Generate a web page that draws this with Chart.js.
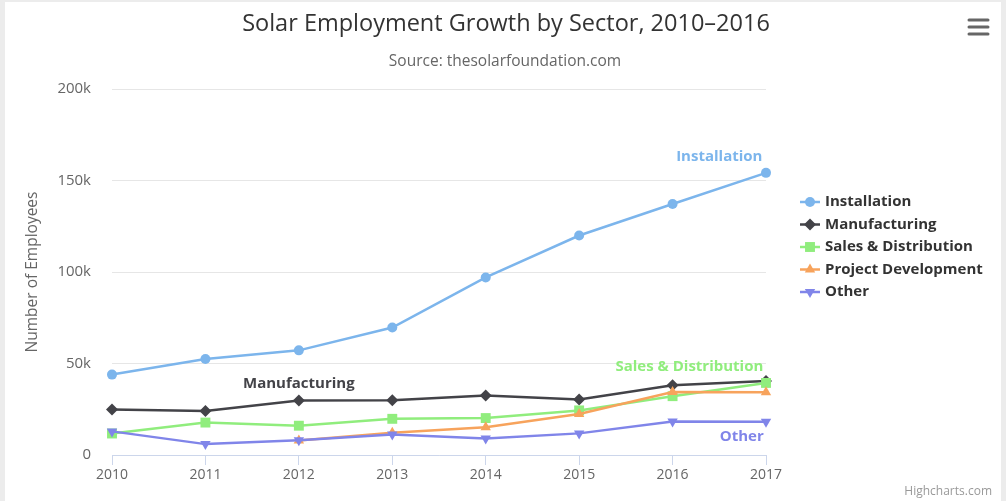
<!DOCTYPE html>
<html><head><meta charset="utf-8">
<script src="https://cdn.jsdelivr.net/npm/chart.js@4/dist/chart.umd.min.js"></script>
<style>
html,body{margin:0;padding:0;background:#ececec;width:1006px;height:501px;overflow:hidden}
#wrap{position:absolute;left:5px;top:2px;width:996px;height:499px;background:#fff}
canvas{display:block}
</style></head><body>
<div id="wrap"><canvas id="c" width="996" height="499"></canvas></div>
<script>
const categories = ['2010','2011','2012','2013','2014','2015','2016','2017'];
const installation = [43934, 52503, 57177, 69658, 97031, 119931, 137133, 154175];
const manufacturing = [24916, 24064, 29742, 29851, 32490, 30282, 38121, 40434];
const salesDistribution = [11744, 17722, 16005, 19771, 20185, 24377, 32147, 39387];
const projectDevelopment = [null, null, 7988, 12169, 15112, 22452, 34400, 34227];
const other = [12908, 5948, 8105, 11248, 8989, 11816, 18274, 18111];
const seriesNames = ['Installation','Manufacturing','Sales & Distribution','Project Development','Other'];
const yTicks = [0, 50000, 100000, 150000, 200000];
const titleText = 'Solar Employment Growth by Sector, 2010–2016';
const subtitleText = 'Source: thesolarfoundation.com';
const yTitleText = 'Number of Employees';

const colors = ['#7cb5ec','#434348','#90ed7d','#f7a35c','#8085e9'];
const styles = ['circle','rectRot','rect','triangle','triangle'];
const rotations = [0,0,0,0,180];
const radii = [5,6,7,6,6];
const seriesData = [installation, manufacturing, salesDistribution, projectDevelopment, other];
// series label anchors: [category index, value]
const seriesLabels = [[6.5,163000],[2,39000],[6.18,48300],null,[6.74,10000]];
const FONT = '"Open Sans", "DejaVu Sans", sans-serif';

const datasets = seriesData.map((d,i)=>({
  label: seriesNames[i], data: d,
  borderColor: colors[i], backgroundColor: colors[i],
  pointBackgroundColor: colors[i], pointBorderWidth: 0,
  pointStyle: styles[i], pointRotation: rotations[i], pointRadius: radii[i],
  borderWidth: 2.5, tension: 0, spanGaps: false, order: 5 - i
}));

function drawMarker(ctx, style, rot, x, y, r, color){
  ctx.save();
  ctx.fillStyle = color;
  ctx.translate(x,y);
  ctx.rotate(rot*Math.PI/180);
  ctx.beginPath();
  if(style==='circle'){ ctx.arc(0,0,r,0,Math.PI*2); }
  else if(style==='rect'){ const s=r*Math.SQRT1_2; ctx.rect(-s,-s,2*s,2*s); }
  else if(style==='rectRot'){ ctx.moveTo(0,-r); ctx.lineTo(r,0); ctx.lineTo(0,r); ctx.lineTo(-r,0); ctx.closePath(); }
  else if(style==='triangle'){
    const a=r; ctx.moveTo(0,-a); ctx.lineTo(a*Math.cos(Math.PI/6), a*0.5); ctx.lineTo(-a*Math.cos(Math.PI/6), a*0.5); ctx.closePath();
  }
  ctx.fill();
  ctx.restore();
}

const decor = {
  id:'decor',
  afterDraw(chart){
    const ctx = chart.ctx;
    const xs = chart.scales.x, ys = chart.scales.y;
    ctx.save();
    ctx.textAlign='center'; ctx.textBaseline='middle';
    ctx.fillStyle='#333333'; ctx.font='23.5px '+FONT;
    ctx.fillText(titleText, 501, 22);
    ctx.fillStyle='#666666'; ctx.font='15.5px '+FONT;
    ctx.fillText(subtitleText, 500, 60);
    // y title
    ctx.save(); ctx.translate(28, 270); ctx.rotate(-Math.PI/2);
    ctx.fillStyle='#666666'; ctx.font='15.5px '+FONT;
    ctx.fillText(yTitleText, 0, 0); ctx.restore();
    // series labels
    ctx.font='bold 15px '+FONT;
    seriesLabels.forEach((l,i)=>{
      if(!l) return;
      const px = xs.left + (xs.right-xs.left)*l[0]/(categories.length-1);
      ctx.fillStyle = colors[i];
      ctx.fillText(seriesNames[i], px, ys.getPixelForValue(l[1]));
    });
    // legend
    ctx.textAlign='left';
    seriesNames.forEach((n,i)=>{
      const y = 200 + i*22.5;
      ctx.strokeStyle = colors[i]; ctx.lineWidth=2.5;
      ctx.beginPath(); ctx.moveTo(795,y); ctx.lineTo(815,y); ctx.stroke();
      drawMarker(ctx, styles[i], rotations[i], 805, y, radii[i], colors[i]);
      ctx.fillStyle='#333333'; ctx.font='bold 15px '+FONT;
      ctx.fillText(n, 820, y);
    });
    // menu icon
    ctx.strokeStyle='#666666'; ctx.lineWidth=3; ctx.lineCap='round';
    [18,25,32].forEach(y=>{ ctx.beginPath(); ctx.moveTo(964,y); ctx.lineTo(983,y); ctx.stroke(); });
    // credits
    ctx.textAlign='right'; ctx.fillStyle='#999999'; ctx.font='12px '+FONT;
    ctx.fillText('Highcharts.com', 987, 490);
    ctx.restore();
  }
};

new Chart(document.getElementById('c'), {
  type:'line',
  data:{ labels: categories, datasets },
  options:{
    responsive:false, animation:false,
    layout:{ padding:{ left:0, top:87, right:235, bottom:0 } },
    plugins:{ legend:{display:false}, title:{display:false}, tooltip:{enabled:false} },
    scales:{
      x:{
        offset:false,
        grid:{ display:true, drawOnChartArea:false, drawTicks:true, tickLength:10, color:'#ccd6eb', lineWidth:1 },
        border:{ display:true, color:'#ccd6eb', width:1 },
        ticks:{ color:'#666666', font:{ family:FONT, size:14 }, padding:2, maxRotation:0, autoSkip:false },
        afterFit(s){ s.height = 46; }
      },
      y:{
        min:0, max:200000,
        afterBuildTicks(s){ s.ticks = yTicks.map(v=>({value:v})); },
        grid:{ color:'#e6e6e6', lineWidth:1, drawTicks:false },
        border:{ display:false },
        ticks:{ color:'#666666', font:{ family:FONT, size:15 }, padding:21,
          callback:(v)=> v===0 ? '0' : (v/1000)+'k' },
        afterFit(s){ s.width = 107; }
      }
    }
  },
  plugins:[decor]
});
</script>
</body></html>
